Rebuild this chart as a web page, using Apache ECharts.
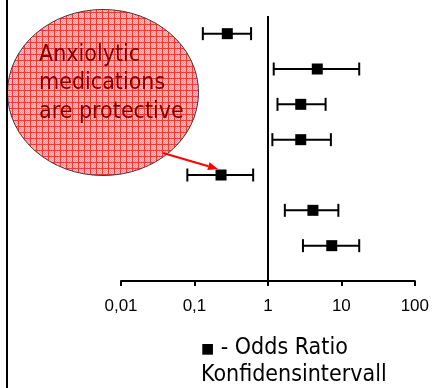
<!DOCTYPE html>
<html>
<head>
<meta charset="utf-8">
<style>
  html, body { margin: 0; padding: 0; background: #ffffff; }
  #chart { width: 432px; height: 388px; }
</style>
<script src="https://cdn.jsdelivr.net/npm/echarts@6/dist/echarts.min.js"></script>
</head>
<body>
<div id="chart"></div>
<script>
// Odds ratios with 95% confidence limits, one row per study (top to bottom)
const oddsRatio = [0.28, 4.7, 2.8, 2.8, 0.23, 4.1, 7.4];
const ciLow     = [0.13, 1.2, 1.35, 1.15, 0.08, 1.7, 3.0];
const ciHigh    = [0.59, 17.5, 6.1, 7.2, 0.63, 9.1, 17.5];

// Log-scale tick labels (decimal comma)
const tickLabels = ['0,01', '0,1', '1', '10', '100'];

// Callout text and legend text
const calloutLines = ['Anxiolytic', 'medications', 'are protective'];
const legendLines = ['{sq|\u25A0} - Odds Ratio', 'Konfidensintervall'];
const protectiveRow = 4;

const rowCount = oddsRatio.length;
const rowPos = i => rowCount - i;   // first row at the top

const pointData = oddsRatio.map((v, i) => [v, rowPos(i)]);
const barData = ciLow.map((lo, i) => [lo, ciHigh[i], rowPos(i)]);

// Hatched pink fill for the callout bubble
function makeHatch() {
  const c = document.createElement('canvas');
  c.width = 6; c.height = 6;
  const ctx = c.getContext('2d');
  ctx.fillStyle = '#ffcccc';
  ctx.fillRect(0, 0, 6, 6);
  ctx.fillStyle = '#f59494';
  for (let y = 0; y < 6; y++) {
    for (let x = 0; x < 6; x++) {
      if ((x + y) % 2 === 0) ctx.fillRect(x, y, 1, 1);
    }
  }
  ctx.fillStyle = '#f03a3a';
  ctx.fillRect(0, 0, 6, 1);
  ctx.fillRect(0, 0, 1, 6);
  return c;
}

const chart = echarts.init(document.getElementById('chart'), null, { renderer: 'canvas' });

const FONT_TXT = '"DejaVu Sans Condensed", "DejaVu Sans", sans-serif';

chart.setOption({
  animation: false,
  backgroundColor: '#ffffff',
  grid: { left: 121, right: 15, top: 16, bottom: 107, containLabel: false },
  xAxis: {
    type: 'log',
    logBase: 10,
    min: 0.01,
    max: 100,
    axisLine: { show: true, lineStyle: { color: '#000', width: 2 } },
    axisTick: { show: true, length: 5, lineStyle: { color: '#000', width: 2 } },
    splitLine: { show: false },
    minorTick: { show: false },
    axisLabel: {
      margin: 17,
      color: '#000',
      fontFamily: '"Liberation Sans", Arial, sans-serif',
      fontSize: 17,
      formatter: (val, idx) => tickLabels[idx] !== undefined ? tickLabels[idx] : ''
    }
  },
  yAxis: {
    type: 'value',
    min: 0,
    max: rowCount + 0.5,
    show: false
  },
  series: [
    {
      type: 'custom',
      name: 'Konfidensintervall',
      data: barData,
      z: 2,
      renderItem: (params, api) => {
        const a = api.coord([api.value(0), api.value(2)]);
        const b = api.coord([api.value(1), api.value(2)]);
        const h = 6.5;
        const st = { stroke: '#000', lineWidth: 2 };
        return {
          type: 'group',
          children: [
            { type: 'line', shape: { x1: a[0], y1: a[1], x2: b[0], y2: b[1] }, style: st },
            { type: 'line', shape: { x1: a[0], y1: a[1] - h, x2: a[0], y2: a[1] + h }, style: st },
            { type: 'line', shape: { x1: b[0], y1: b[1] - h, x2: b[0], y2: b[1] + h }, style: st }
          ]
        };
      }
    },
    {
      type: 'scatter',
      name: 'Odds Ratio',
      data: pointData,
      symbol: 'rect',
      symbolSize: 11,
      z: 3,
      itemStyle: { color: '#000', opacity: 1 },
      markLine: {
        silent: true,
        symbol: 'none',
        label: { show: false },
        lineStyle: { color: '#000', width: 2, type: 'solid' },
        data: [{ xAxis: 1 }]
      }
    }
  ]
});

// Callout bubble, arrow pointing at the protective estimate, legend text
const tip = chart.convertToPixel({ seriesIndex: 1 }, pointData[protectiveRow]);
const tipX = tip[0] - 3, tipY = tip[1] - 6;
const startX = 163, startY = 153;
const ang = Math.atan2(tipY - startY, tipX - startX);
const headLen = 10, headW = 4;
const baseX = tipX - headLen * Math.cos(ang), baseY = tipY - headLen * Math.sin(ang);
const nx = -Math.sin(ang) * headW, ny = Math.cos(ang) * headW;

const graphics = [
  {
    type: 'line',
    shape: { x1: 7, y1: 0, x2: 7, y2: 388 },
    style: { stroke: '#000', lineWidth: 2 },
    z: 10
  },
  {
    type: 'ellipse',
    shape: { cx: 103, cy: 92.5, rx: 95.5, ry: 83 },
    style: { fill: { image: makeHatch(), repeat: 'repeat' }, stroke: '#3a3a3a', lineWidth: 1 },
    z: 5
  },
  {
    type: 'line',
    shape: { x1: startX, y1: startY, x2: baseX, y2: baseY },
    style: { stroke: '#ff0000', lineWidth: 2 },
    z: 6
  },
  {
    type: 'polygon',
    shape: { points: [[tipX, tipY], [baseX + nx, baseY + ny], [baseX - nx, baseY - ny]] },
    style: { fill: '#ff0000' },
    z: 6
  }
];

calloutLines.forEach((t, i) => {
  graphics.push({
    type: 'text',
    x: 39,
    y: 55 + i * 28.5,
    z: 7,
    style: {
      text: t,
      fill: '#7c0000',
      font: '23px ' + FONT_TXT,
      align: 'left',
      verticalAlign: 'middle'
    }
  });
});

legendLines.forEach((t, i) => {
  graphics.push({
    type: 'text',
    x: 201,
    y: 348 + i * 27,
    z: 7,
    style: {
      text: t,
      fill: '#000',
      font: '23px ' + FONT_TXT,
      align: 'left',
      verticalAlign: 'middle',
      rich: {
        sq: { fontSize: 14, fontFamily: '"DejaVu Sans", sans-serif', fill: '#000', verticalAlign: 'bottom', padding: [0, 0, 3, 0] }
      }
    }
  });
});

chart.setOption({ graphic: graphics });
</script>
</body>
</html>
